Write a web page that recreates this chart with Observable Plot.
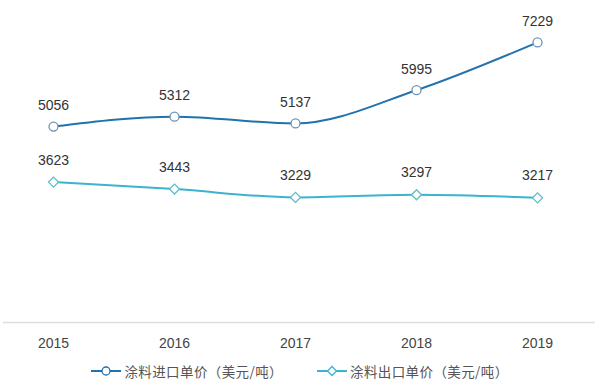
<!DOCTYPE html>
<html><head><meta charset="utf-8">
<script src="https://cdn.jsdelivr.net/npm/d3@7"></script>
<script src="https://cdn.jsdelivr.net/npm/@observablehq/plot@0.6"></script>
<style>
body{margin:0;background:#fff;font-family:"Liberation Sans","Noto Sans CJK SC",sans-serif;}
#legend{display:flex;justify-content:center;gap:34px;font-size:13.5px;letter-spacing:0.4px;color:#555;margin-top:1px;font-family:"Noto Sans CJK SC","Liberation Sans",sans-serif;}
#legend span{display:flex;align-items:center;gap:3px;}
</style></head><body>
<div id="chart"></div>
<div id="legend"></div>
<script>
const years = [2015, 2016, 2017, 2018, 2019];
const importPrice = [5056, 5312, 5137, 5995, 7229];
const exportPrice = [3623, 3443, 3229, 3297, 3217];
const seriesNames = ["涂料进口单价（美元/吨）", "涂料出口单价（美元/吨）"];
const colors = ["#2272ad", "#3bb3cf"];

const imp = years.map((y, i) => ({year: y, value: importPrice[i]}));
const exp = years.map((y, i) => ({year: y, value: exportPrice[i]}));

const plot = Plot.plot({
  width: 600, height: 360,
  marginLeft: 53, marginRight: 63, marginTop: 12, marginBottom: 38,
  x: {type: "linear", domain: [2015, 2019], label: null},
  y: {domain: [0, 8000], axis: null},
  style: {fontSize: "13px", color: "#444", fontFamily: "Liberation Sans, sans-serif"},
  marks: [
    Plot.axisX({ticks: years, tickFormat: d => String(d), tickSize: 0, tickPadding: 16, fontSize: 14, fill: "#444", label: null}),
    Plot.ruleY([0], {stroke: "#ddd", strokeWidth: 1.5, insetLeft: -50, insetRight: -58}),
    Plot.line(imp, {x: "year", y: "value", stroke: colors[0], strokeWidth: 2, curve: "monotone-x"}),
    Plot.line(exp, {x: "year", y: "value", stroke: colors[1], strokeWidth: 2, curve: "monotone-x"}),
    Plot.dot(imp, {x: "year", y: "value", r: 4.5, fill: "#fff", stroke: "#6f93b3", strokeWidth: 1.3}),
    Plot.dot(exp, {x: "year", y: "value", r: 4.5, symbol: "diamond2", fill: "#fff", stroke: "#5cbcc9", strokeWidth: 1.3}),
    Plot.text(imp, {x: "year", y: "value", text: d => String(d.value), dy: -21, fontSize: 14, fill: "#333"}),
    Plot.text(exp, {x: "year", y: "value", text: d => String(d.value), dy: -22, fontSize: 14, fill: "#333"})
  ]
});
document.getElementById("chart").appendChild(plot);

const legend = document.getElementById("legend");
seriesNames.forEach((name, i) => {
  const marker = i === 0
    ? `<circle cx="15" cy="6" r="4" fill="#fff" stroke="${colors[i]}" stroke-width="1.3"/>`
    : `<path d="M15 1.5 L19.5 6 L15 10.5 L10.5 6 Z" fill="#fff" stroke="${colors[i]}" stroke-width="1.3"/>`;
  const s = document.createElement("span");
  s.innerHTML = `<svg width="30" height="12"><line x1="0" x2="30" y1="6" y2="6" stroke="${colors[i]}" stroke-width="2"/>${marker}</svg>${name}`;
  legend.appendChild(s);
});
</script>
</body></html>
